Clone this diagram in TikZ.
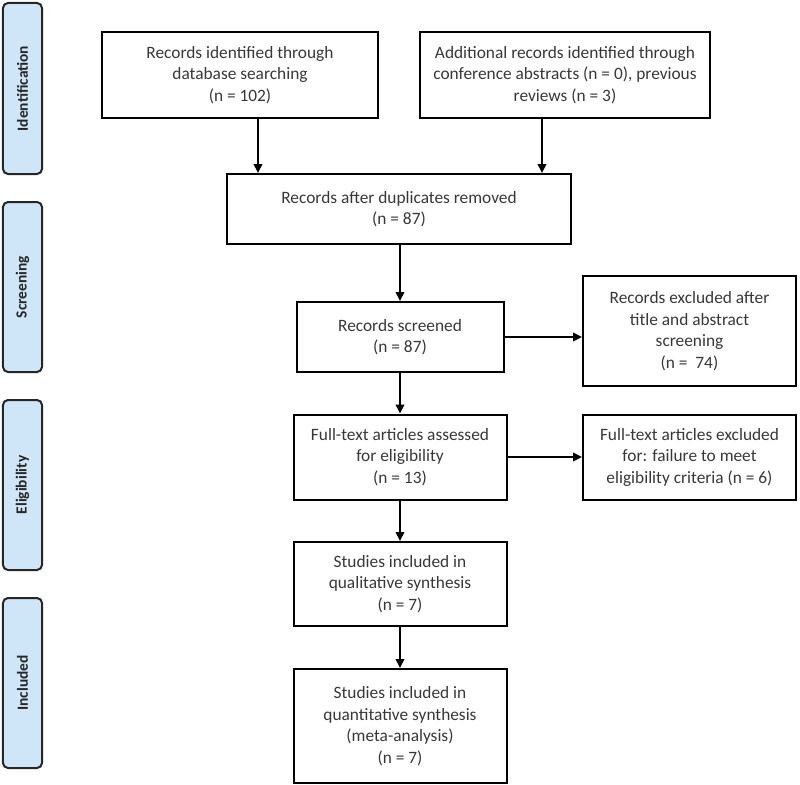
\documentclass[tikz,border=0pt]{standalone}
\usepackage{fontspec}
\setmainfont{Carlito}
\usetikzlibrary{arrows.meta}
\definecolor{phasefill}{RGB}{206,230,248}
\definecolor{textgray}{RGB}{55,55,55}

\begin{document}
\begin{tikzpicture}[x=1bp, y=-1bp,
  block/.style={draw, line width=2bp, align=center, text=textgray, inner sep=0pt,
    font=\fontsize{17.4}{21.6}\selectfont},
  phase/.style={draw=black!85, line width=2bp, rounded corners=5bp, fill=phasefill,
    rotate=90, minimum height=39bp, inner sep=0pt, text=black!85,
    font=\fontsize{15.5}{18}\selectfont\bfseries},
  arr/.style={-{Triangle[length=9bp, width=8.5bp]}, line width=2bp}]

  \useasboundingbox (0,0) rectangle (800,785);

  % Phase labels
  \node[phase, minimum width=171bp] (P1) at (22.5,88.5) {Identification};
  \node[phase, minimum width=170bp] (P2) at (22.5,287) {Screening};
  \node[phase, minimum width=170bp] (P3) at (22.5,485) {Eligibility};
  \node[phase, minimum width=170bp] (P4) at (22.5,683) {Included};

  % First row
  \node[block, minimum width=276bp, minimum height=85bp] (B1) at (240,75)
    {Records identified through\\database searching\\(n = 102)};
  \node[block, minimum width=290bp, minimum height=85bp] (B2) at (565,75)
    {Additional records identified through\\conference abstracts (n = 0), previous\\reviews (n = 3)};

  % Main column
  \node[block, minimum width=344bp, minimum height=70bp] (B3) at (399,209)
    {Records after duplicates removed\\(n = 87)};
  \node[block, minimum width=207bp, minimum height=70bp] (B4) at (400,337)
    {Records screened\\(n = 87)};
  \node[block, minimum width=213bp, minimum height=85bp] (B6) at (400,457)
    {Full-text articles assessed\\for eligibility\\(n = 13)};
  \node[block, minimum width=213bp, minimum height=84bp] (B8) at (400,584)
    {Studies included in\\qualitative synthesis\\(n = 7)};
  \node[block, minimum width=213bp, minimum height=114bp] (B9) at (400,726)
    {Studies included in\\quantitative synthesis\\(meta-analysis)\\(n = 7)};

  % Exclusions
  \node[block, minimum width=213bp, minimum height=110bp] (B5) at (689.5,331)
    {Records excluded after\\title and abstract\\screening\\(n =\ \ 74)};
  \node[block, minimum width=213bp, minimum height=85bp] (B7) at (689.5,457)
    {Full-text articles excluded\\for: failure to meet\\eligibility criteria (n = 6)};

  % Vertical arrows
  \coordinate (T1) at (258,0);
  \coordinate (T2) at (542,0);
  \draw[arr] (T1 |- B1.south) -- (T1 |- B3.north);
  \draw[arr] (T2 |- B2.south) -- (T2 |- B3.north);
  \draw[arr] (B4.north |- B3.south) -- (B4.north);
  \draw[arr] (B4.south) -- (B6.north);
  \draw[arr] (B6.south) -- (B8.north);
  \draw[arr] (B8.south) -- (B9.north);

  % Horizontal arrows
  \draw[arr] (B4.east) -- (B4.east -| B5.west);
  \draw[arr] (B6.east) -- (B7.west);

\end{tikzpicture}
\end{document}
